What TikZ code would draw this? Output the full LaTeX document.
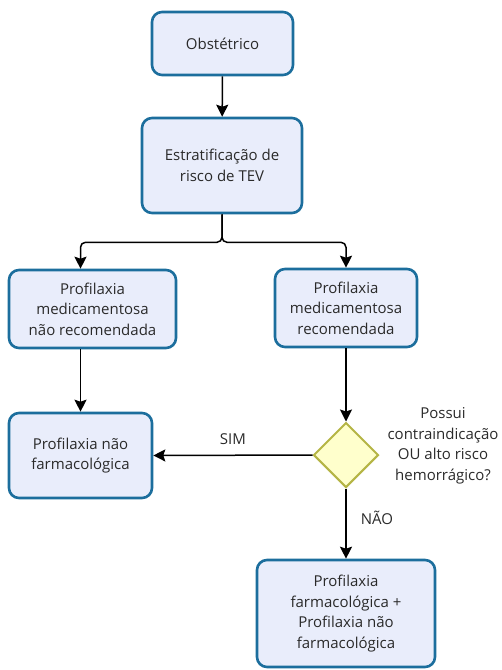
\documentclass[tikz,border=0pt]{standalone}
\usepackage{fontspec}
\setmainfont{Open Sans}
\usetikzlibrary{shapes.geometric,arrows.meta}
\definecolor{boxfill}{HTML}{E9EDFB}
\definecolor{boxline}{HTML}{1C6E9D}
\definecolor{decfill}{HTML}{FFFFCC}
\definecolor{decline}{HTML}{B5B545}
\definecolor{ink}{HTML}{2A2A2A}
\tikzset{
  stepbox/.style={draw=boxline, fill=boxfill, line width=2.6pt, rounded corners=10pt,
    align=center, inner sep=2pt, text=ink, font=\fontsize{15}{20.5}\selectfont},
  decision/.style={draw=decline, fill=decfill, line width=2pt, diamond, aspect=1,
    minimum width=65pt, minimum height=65pt, inner sep=0pt},
  link/.style={draw=black, line width=1.5pt, -{Stealth[length=12pt,width=12pt,inset=2pt]}},
  lbl/.style={text=ink, font=\fontsize{15}{20.5}\selectfont, align=center, inner sep=0pt},
}
\begin{document}
\begin{tikzpicture}[x=1pt,y=-1pt]
  \useasboundingbox (0,0) rectangle (502,670);
  \node[stepbox, minimum width=141pt, minimum height=63pt] (obs) at (222.5,43.5) {Obstétrico};
  \node[stepbox, minimum width=160pt, minimum height=95pt] (estr) at (222,165.5) {Estratificação de\\risco de TEV};
  \node[stepbox, minimum width=167pt, minimum height=78pt] (nl) at (92.5,309) {Profilaxia\\medicamentosa\\não recomendada};
  \node[stepbox, minimum width=142pt, minimum height=78pt] (nr) at (346,308) {Profilaxia\\medicamentosa\\recomendada};
  \node[stepbox, minimum width=143pt, minimum height=85pt] (nf) at (80.5,455.5) {Profilaxia não\\farmacológica};
  \node[decision] (dec) at (346,455) {};
  \node[lbl] (q) at (443,446) {Possui\\contraindicação\\OU alto risco\\hemorrágico?};
  \node[stepbox, minimum width=178pt, minimum height=107pt] (fin) at (346,613.5) {Profilaxia\\farmacológica +\\Profilaxia não\\farmacológica};

  \draw[link] (obs) -- (estr);
  \draw[link, rounded corners=5pt] (estr.south) -- ++(0,28) -| (nf |- nl.north);
  \draw[link, rounded corners=5pt] (estr.south) -- ++(0,28) -| (nr.north);
  \draw[link] (nf |- nl.south) -- (nf.north);
  \draw[link] (nr.south) -- (dec.north);
  \draw[link] (dec.west) -- node[lbl, above=10pt] (sim) {SIM} (nf.east);
  \draw[link] (dec.south) -- node[lbl, right=14pt, pos=0.42] (nao) {NÃO} (fin.north);
\end{tikzpicture}
\end{document}
